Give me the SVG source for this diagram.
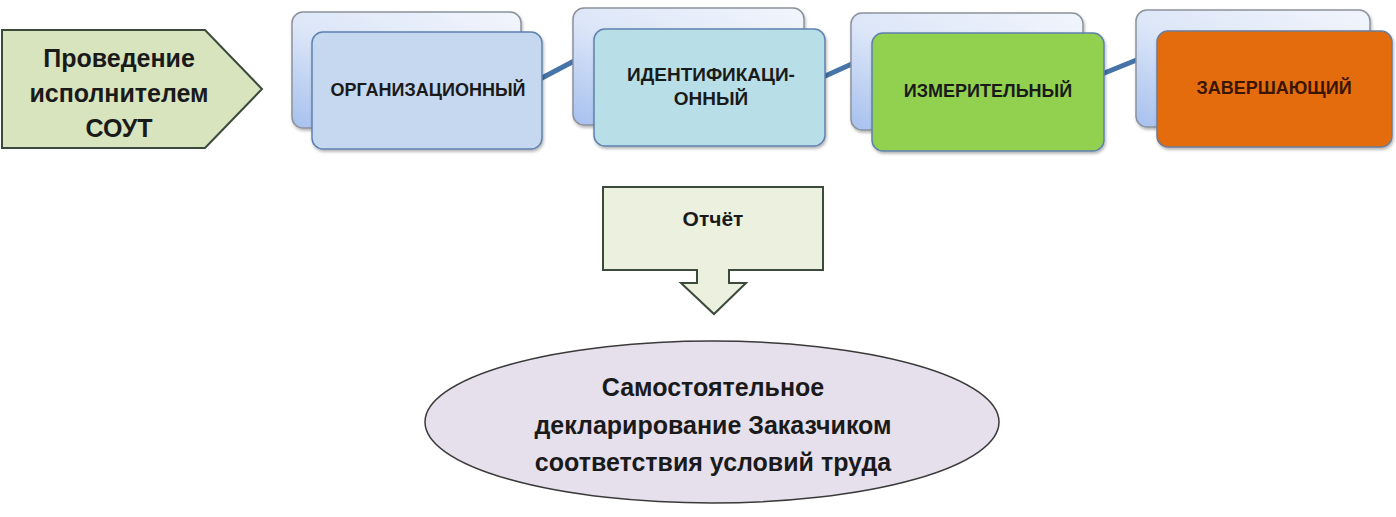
<svg xmlns="http://www.w3.org/2000/svg" width="1396" height="517" viewBox="0 0 1396 517">
<defs>
<linearGradient id="backGrad" x1="1" y1="0" x2="0" y2="1">
<stop offset="0" stop-color="#f2f5fc"/>
<stop offset="0.55" stop-color="#dce6f8"/>
<stop offset="1" stop-color="#a6c0ee"/>
</linearGradient>
<filter id="sh" x="-10%" y="-10%" width="120%" height="130%">
<feDropShadow dx="1" dy="2" stdDeviation="1.5" flood-color="#000" flood-opacity="0.3"/>
</filter>
<style>
.back{fill:url(#backGrad);stroke:#8c929c;stroke-width:1.5}
.front{stroke-width:1.5}
.lbl{font-family:"Liberation Sans",Arial,sans-serif;font-weight:bold;fill:#1a1a1a;text-anchor:middle}
.big{font-size:25px}
.card{font-size:18px}
.conn{stroke:#4673a8;stroke-width:5;stroke-linecap:butt;fill:none}
</style>
</defs>
<rect width="1396" height="517" fill="#ffffff"/>
<g id="connectors">
<line class="conn" x1="540" y1="79" x2="576" y2="60"/>
<line class="conn" x1="823" y1="77" x2="854" y2="63"/>
<line class="conn" x1="1102" y1="74" x2="1139" y2="59"/>
</g>
<g id="start">
<polygon points="2,30 205,30 262,89 205,148 2,148" fill="#d7e4bd" stroke="#3c4a3c" stroke-width="2"/>
<text class="lbl big" x="119" y="67">Проведение</text>
<text class="lbl big" x="119" y="102">исполнителем</text>
<text class="lbl big" x="119" y="137">СОУТ</text>
</g>
<g id="stage1">
<rect class="back" x="292" y="12" width="229" height="116" rx="11" filter="url(#sh)"/>
<rect class="front" x="312" y="32" width="230" height="117" rx="11" fill="#c6d7f0" stroke="#5f81ae" filter="url(#sh)"/>
<text class="lbl card" x="428" y="96">ОРГАНИЗАЦИОННЫЙ</text>
</g>
<g id="stage2">
<rect class="back" x="573" y="8" width="231" height="117" rx="11" filter="url(#sh)"/>
<rect class="front" x="594" y="29" width="231" height="117" rx="11" fill="#b8dfe8" stroke="#5f81ae" filter="url(#sh)"/>
<text class="lbl card" style="font-size:19px" x="711" y="81">ИДЕНТИФИКАЦИ-</text>
<text class="lbl card" style="font-size:19px" x="711" y="105">ОННЫЙ</text>
</g>
<g id="stage3">
<rect class="back" x="851" y="13" width="232" height="117" rx="11" filter="url(#sh)"/>
<rect class="front" x="872" y="33" width="232" height="118" rx="11" fill="#92d050" stroke="#5f81ae" filter="url(#sh)"/>
<text class="lbl card" x="988" y="97">ИЗМЕРИТЕЛЬНЫЙ</text>
</g>
<g id="stage4">
<rect class="back" x="1136" y="10" width="234" height="117" rx="11" filter="url(#sh)"/>
<rect class="front" x="1157" y="31" width="235" height="116" rx="11" fill="#e46c0a" stroke="#6b7d99" filter="url(#sh)"/>
<text class="lbl card" x="1274" y="94" style="fill:#3a1500">ЗАВЕРШАЮЩИЙ</text>
</g>
<g id="report">
<polygon points="603,187 823,187 823,270 729,270 729,283 746,283 714,314 681,283 697,283 697,270 603,270" fill="#ebf1de" stroke="#3c4a3c" stroke-width="2"/>
<text class="lbl" style="font-size:21px" x="713" y="226">Отчёт</text>
</g>
<g id="declaration">
<ellipse cx="712" cy="422" rx="287" ry="81" fill="#e6e0ec" stroke="#3a3a3a" stroke-width="1.5"/>
<text class="lbl big" x="713" y="396">Самостоятельное</text>
<text class="lbl big" x="713" y="434">декларирование Заказчиком</text>
<text class="lbl big" x="713" y="471">соответствия условий труда</text>
</g>
</svg>
